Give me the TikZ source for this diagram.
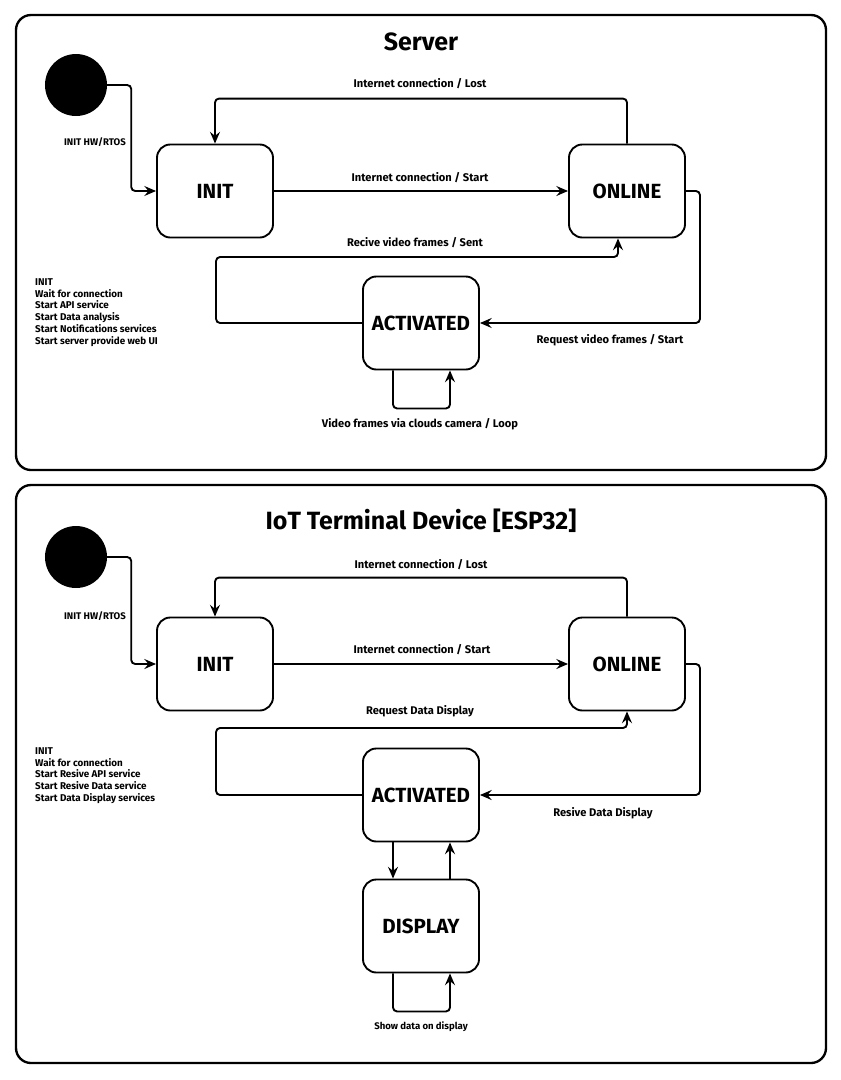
\documentclass[tikz,border=0pt]{standalone}
\usepackage{fontspec}
\setmainfont{Fira Sans}
\usetikzlibrary{arrows.meta,calc}

\begin{document}
\begin{tikzpicture}[x=0.03cm, y=-0.03cm,
  frame/.style={draw, line width=2pt, rounded corners=0.45cm},
  state/.style={draw, line width=1.6pt, rounded corners=0.4cm,
    minimum width=3.48cm, minimum height=2.79cm, font=\bfseries\fontsize{17.5}{20}\selectfont},
  start/.style={circle, fill=black, minimum size=1.86cm, inner sep=0pt},
  trans/.style={line width=1.6pt, rounded corners=0.12cm, -{Stealth[length=10pt, width=8.5pt, inset=3.5pt]}},
  lbl/.style={font=\bfseries\fontsize{9.5}{11}\selectfont, inner sep=0pt},
  small/.style={font=\bfseries\fontsize{8.2}{10}\selectfont, inner sep=0pt},
  notes/.style={font=\bfseries\fontsize{8.4}{10.2}\selectfont, align=left, anchor=north west, inner sep=0pt},
  title/.style={font=\bfseries\fontsize{21.3}{24}\selectfont}]
\useasboundingbox (0,0) rectangle (841,1080);

% Server
\draw[frame] (16,15) rectangle (826,470);
\node[title] at (421,42) {Server};

\node[start] (s0) at (76,85) {};
\node[state] (init) at (215,191) {INIT};
\node[state] (online) at (627,191) {ONLINE};
\node[state] (activ) at (421,323) {ACTIVATED};

\draw[trans] (s0.east) -- ++(24,0) |- (init.west);
\draw[trans] (online.north) -- ++(0,-45) -| (init.north);
\draw[trans] (init.east) -- (online.west);
\draw[trans] (activ.west) -| ++(-146,-66) -| ($(online.south)+(-9,0)$);
\draw[trans] (online.east) -- ++(14,0) |- (activ.east);
\draw[trans] ($(activ.south)+(-28,0)$) -- ++(0,38) -| ($(activ.south)+(29,0)$);

\node[small] at (95,142) {INIT HW/RTOS};
\node[lbl] at (420,84) {Internet connection / Lost};
\node[lbl] at (420,178) {Internet connection / Start};
\node[lbl] at (415,243) {Recive video frames / Sent};
\node[lbl] at (610,340) {Request video frames / Start};
\node[lbl] at (420,424) {Video frames via clouds camera / Loop};
\node[notes] at (35,278) {INIT\\Wait for connection\\Start API service\\Start Data analysis\\Start Notifications services\\Start server provide web UI};

% IoT terminal
\draw[frame] (16,485) rectangle (826,1063);
\node[title] at (421,521) {IoT Terminal Device [ESP32]};

\node[start] (t0) at (76,557) {};
\node[state] (initB) at (215,664) {INIT};
\node[state] (onlineB) at (627,664) {ONLINE};
\node[state] (activB) at (421,795) {ACTIVATED};
\node[state] (disp) at (421,926) {DISPLAY};

\draw[trans] (t0.east) -- ++(24,0) |- (initB.west);
\draw[trans] (onlineB.north) -- ++(0,-39) -| (initB.north);
\draw[trans] (initB.east) -- (onlineB.west);
\draw[trans] (activB.west) -| ++(-146,-67) -| (onlineB.south);
\draw[trans] (onlineB.east) -- ++(14,0) |- (activB.east);
\draw[trans] ($(activB.south)+(-28,0)$) -- ($(disp.north)+(-28,0)$);
\draw[trans] ($(disp.north)+(29,0)$) -- ($(activB.south)+(29,0)$);
\draw[trans] ($(disp.south)+(-28,0)$) -- ++(0,38) -| ($(disp.south)+(29,0)$);

\node[small] at (95,616) {INIT HW/RTOS};
\node[lbl] at (421,565) {Internet connection / Lost};
\node[lbl] at (422,650) {Internet connection / Start};
\node[lbl] at (420,711) {Request Data Display};
\node[lbl] at (603,813) {Resive Data Display};
\node[small] at (421,1027) {Show data on display};
\node[notes] at (35,747) {INIT\\Wait for connection\\Start Resive API service\\Start Resive Data service\\Start Data Display services};
\end{tikzpicture}
\end{document}
